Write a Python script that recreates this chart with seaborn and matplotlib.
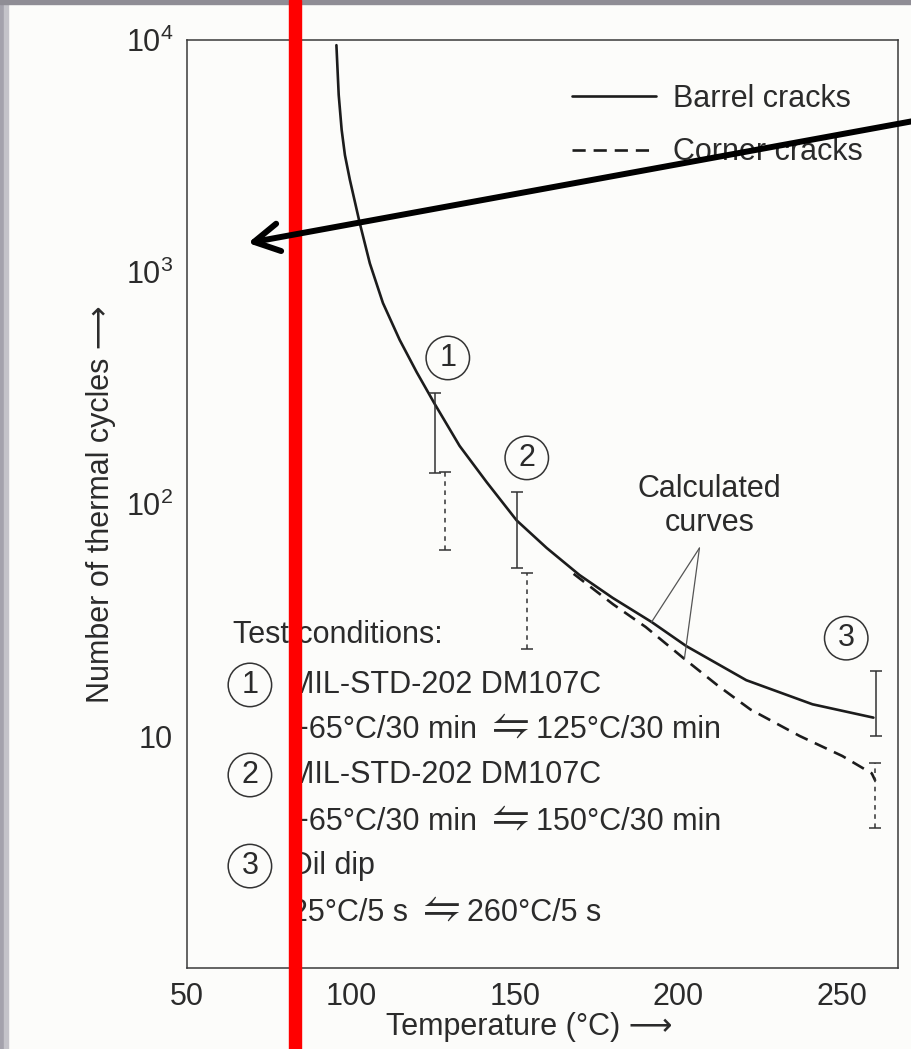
# Thermal cycles to failure vs. temperature (barrel / corner cracks)
import matplotlib
matplotlib.use("Agg")
import matplotlib.pyplot as plt
import seaborn as sns
from matplotlib.lines import Line2D
from matplotlib.patches import Rectangle, FancyArrowPatch
from matplotlib.ticker import NullLocator

# calculated curves
barrel_T = [95.6, 96.3, 97.2, 98.2, 99.7, 102.7, 105.8, 109.8, 114.9, 120.1, 125.6,
            133.2, 141.5, 150.6, 159.8, 169.8, 179.9, 191.8, 202.4, 220.7, 240.9, 259.5]
barrel_N = [9500, 5800, 4100, 3190, 2500, 1630, 1090, 735, 510, 370, 270,
            178, 124, 85, 64.6, 49.4, 39.4, 31.0, 24.4, 17.4, 13.7, 12.0]
corner_T = [168, 180, 190, 201.8, 212, 222, 237, 250, 259, 260.1]
corner_N = [50, 37, 29.5, 21.5, 16.5, 13.0, 10.0, 8.2, 6.9, 6.4]

# test scatter bands (min / max)
bar_barrel_T = [125.6, 150.6, 260.4]
bar_barrel_lo = [136, 53, 10.0]
bar_barrel_hi = [301, 113, 19.1]
bar_corner_T = [128.7, 153.7, 260.1]
bar_corner_lo = [63.4, 23.7, 4.0]
bar_corner_hi = [137, 50.5, 7.65]

x_ticks = [50, 100, 150, 200, 250]
y_ticks = [10, 100, 1000, 10000]
y_tick_labels = ["10", "$10^2$", "$10^3$", "$10^4$"]

sns.set_style("white")
plt.rcParams["font.family"] = ["Liberation Sans", "DejaVu Sans"]
plt.rcParams["mathtext.fontset"] = "custom"
plt.rcParams["mathtext.rm"] = "Liberation Sans"
plt.rcParams["mathtext.it"] = "Liberation Sans:italic"

F = 22
TXT = "#2b2b2b"
INK = "#1c1c1c"
PAPER = "#fcfcfa"

fig = plt.figure(figsize=(9.12, 10.49), dpi=100, facecolor=PAPER)
fig.subplots_adjust(left=187/912, right=898/912, top=1-40/1049, bottom=1-968/1049)
ax = fig.add_subplot(111)
ax.set_facecolor(PAPER)

sns.lineplot(x=barrel_T, y=barrel_N, ax=ax, color=INK, lw=1.9, sort=False, estimator=None)
sns.lineplot(x=corner_T, y=corner_N, ax=ax, color=INK, lw=1.9, sort=False, estimator=None)
ax.lines[-1].set_dashes((5, 3))

# scatter bands
lo = bar_barrel_lo
ax.errorbar(bar_barrel_T, lo, yerr=[[0]*3, [h - l for h, l in zip(bar_barrel_hi, lo)]],
            fmt="none", ecolor="#333333", elinewidth=1.1, capsize=4, capthick=1.1)
lo = bar_corner_lo
eb = ax.errorbar(bar_corner_T, lo, yerr=[[0]*3, [h - l for h, l in zip(bar_corner_hi, lo)]],
                 fmt="none", ecolor="#333333", elinewidth=1.1, capsize=4, capthick=1.1)
eb[2][0].set_linestyle((0, (3, 3)))

ax.set_yscale("log")
ax.set_xlim(50, 267)
ax.set_ylim(1, 10000)
ax.set_xticks(x_ticks)
ax.set_yticks(y_ticks)
ax.set_yticklabels(y_tick_labels)
ax.yaxis.set_minor_locator(NullLocator())
ax.tick_params(direction="in", length=9, width=1.1, color="#3a3a3a",
               labelsize=F, labelcolor=TXT, pad=10)
for s in ax.spines.values():
    s.set_color("#3a3a3a")
    s.set_linewidth(1.1)

ax.set_xlabel("Temperature (°C) ⟶", fontsize=F, color=TXT)
ax.xaxis.set_label_coords(0.482, -0.047)
ax.set_ylabel("Number of thermal cycles ⟶", fontsize=F, color=TXT)
ax.yaxis.set_label_coords(-0.1, 0.5)

# legend
handles = [Line2D([], [], color=INK, lw=1.9),
           Line2D([], [], color=INK, lw=1.9, dashes=(5, 3))]
ax.legend(handles, ["Barrel cracks", "Corner cracks"], loc="upper left",
          bbox_to_anchor=(0.5415, 0.953), frameon=False, fontsize=F,
          handlelength=2.75, handletextpad=0.55, labelspacing=0.78,
          borderpad=0, borderaxespad=0, labelcolor=TXT)

circ = dict(boxstyle="circle,pad=0.22", fc="none", ec="#333333", lw=1.1)
for num, tx, ny in [("1", 129.6, 426), ("2", 153.7, 158), ("3", 251.2, 26.4)]:
    ax.text(tx, ny, num, fontsize=F, color=TXT, ha="center", va="center", bbox=circ)

# calculated curves note
ax.text(209.5, 98, "Calculated\ncurves", fontsize=F, color=TXT, ha="center",
        va="center", linespacing=1.15)
for tip in [(191.8, 31.0), (201.8, 21.5)]:
    ax.annotate("", xy=tip, xytext=(206.4, 64.6),
                arrowprops=dict(arrowstyle="-", color="#555555", lw=0.9,
                                shrinkA=0, shrinkB=0))

# test conditions block
ax.text(64.0, 27.2, "Test conditions:", fontsize=F, color=TXT, ha="left", va="center")


def cond_line(x, y, left, right):
    t1 = ax.text(x, y, left, fontsize=F, color=TXT, ha="left", va="center")
    t2 = ax.annotate(r"$\leftrightharpoons$", xy=(1, 0.5), xycoords=t1, xytext=(5, 3),
                     textcoords="offset points", fontsize=31, color=TXT,
                     ha="left", va="center", math_fontfamily="stix")
    ax.annotate(right, xy=(1, 0.5), xycoords=(t2, t1), xytext=(5, 0),
                textcoords="offset points", fontsize=F, color=TXT,
                ha="left", va="center")


rows = [("1", 16.6, "MIL-STD-202 DM107C", 10.6, "−65°C/30 min", "125°C/30 min"),
        ("2", 6.79, "MIL-STD-202 DM107C", 4.26, "−65°C/30 min", "150°C/30 min"),
        ("3", 2.75, "Oil dip", 1.73, "25°C/5 s", "260°C/5 s")]
for num, y1, title, y2, left, right in rows:
    ax.text(69.2, y1, num, fontsize=F, color=TXT, ha="center", va="center", bbox=circ)
    ax.text(81.2, y1, title, fontsize=F, color=TXT, ha="left", va="center")
    cond_line(81.8, y2, left, right)

# scan edges and markup drawn over the figure
fig.add_artist(Rectangle((0, 0), 4/912, 1, transform=fig.transFigure,
                         color="#a4a2ac", zorder=9))
fig.add_artist(Rectangle((4/912, 0), 4/912, 1, transform=fig.transFigure,
                         color="#c4c3c9", zorder=9))
fig.add_artist(Rectangle((0, 1 - 4/1049), 1, 4/1049, transform=fig.transFigure,
                         color="#8f8d95", zorder=9))
fig.add_artist(Rectangle((289/912, 0), 12/912, 1, transform=fig.transFigure,
                         color="#ff0000", zorder=10))
arrow = FancyArrowPatch((930/912, 1 - 118/1049), (248/912, 1 - 243/1049),
                        transform=fig.transFigure,
                        arrowstyle="->,head_length=0.45,head_width=0.25",
                        mutation_scale=40, lw=4.3, color="black",
                        shrinkA=0, shrinkB=0, zorder=11,
                        capstyle="round", joinstyle="round")
fig.add_artist(arrow)

plt.savefig("out.png", dpi=100, facecolor=PAPER)
